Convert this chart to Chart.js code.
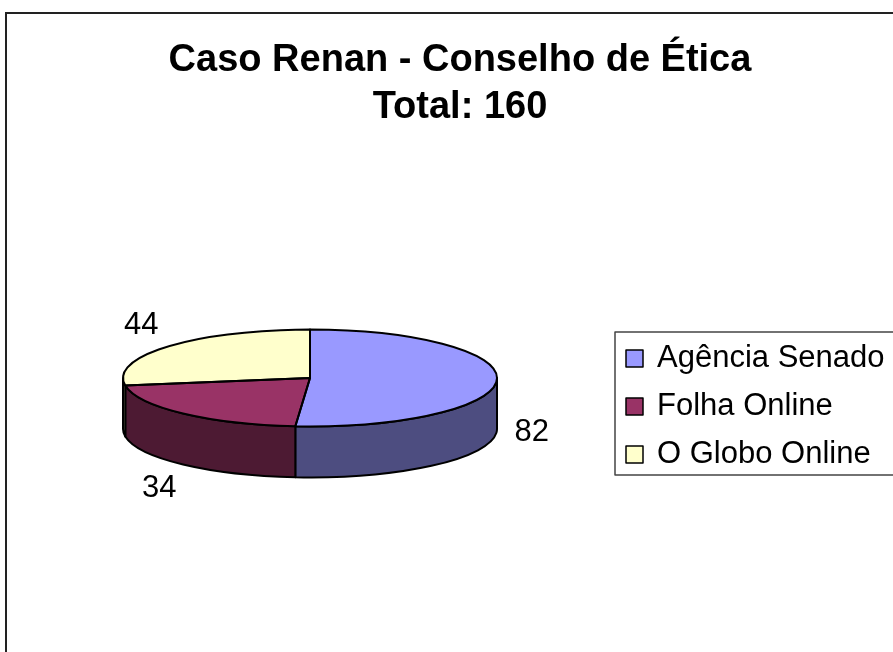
<!DOCTYPE html>
<html>
<head>
<meta charset="utf-8">
<script src="https://cdn.jsdelivr.net/npm/chart.js@4.4.0/dist/chart.umd.min.js"></script>
<style>
  html, body { margin: 0; padding: 0; background: #fff; }
  canvas { display: block; }
</style>
</head>
<body>
<canvas id="pieChart" width="893" height="652"></canvas>
<script>
var categories = ['Agência Senado', 'Folha Online', 'O Globo Online'];
var values = [82, 34, 44];
var titleLines = ['Caso Renan - Conselho de Ética', 'Total: 160'];
var topColors = ['#9999FF', '#993366', '#FFFFCC'];
var sideColors = ['#4D4D80', '#4D1A33', '#808066'];

var FONT = '"Liberation Sans", Arial, sans-serif';
var TILT = 0.259;   // how flat the pie top is
var DEPTH = 51;     // thickness of the pie

function squash(ctx, arc) {
    ctx.translate(arc.x, arc.y);
    ctx.scale(1, TILT);
    ctx.translate(-arc.x, -arc.y);
}

var pie3d = {
    id: 'pie3d',
    beforeDraw: function (chart) {
        var ctx = chart.ctx;
        ctx.save();
        ctx.fillStyle = '#fff';
        ctx.fillRect(0, 0, chart.width, chart.height);
        // outer frame
        ctx.lineWidth = 2;
        ctx.strokeStyle = '#222';
        ctx.strokeRect(6, 13, 1000, 1000);
        // title
        ctx.fillStyle = '#000';
        ctx.textAlign = 'center';
        ctx.textBaseline = 'alphabetic';
        ctx.font = 'bold 38px ' + FONT;
        ctx.fillText(titleLines[0], 460, 71);
        ctx.fillText(titleLines[1], 460, 118);
        ctx.restore();
    },
    beforeDatasetsDraw: function (chart) {
        var ctx = chart.ctx;
        var arcs = chart.getDatasetMeta(0).data;
        // side walls, only the front half shows
        arcs.forEach(function (arc, i) {
            var a1 = Math.max(arc.startAngle, 0);
            var a2 = Math.min(arc.endAngle, Math.PI);
            if (a2 <= a1) return;
            var r = arc.outerRadius;
            ctx.beginPath();
            ctx.ellipse(arc.x, arc.y, r, r * TILT, 0, a1, a2);
            ctx.lineTo(arc.x + r * Math.cos(a2), arc.y + r * TILT * Math.sin(a2) + DEPTH);
            ctx.ellipse(arc.x, arc.y + DEPTH, r, r * TILT, 0, a2, a1, true);
            ctx.closePath();
            ctx.fillStyle = sideColors[i];
            ctx.fill();
            ctx.lineWidth = 2;
            ctx.strokeStyle = '#000';
            ctx.lineJoin = 'round';
            ctx.stroke();
        });
        ctx.save();
        squash(ctx, arcs[0]);
    },
    afterDatasetsDraw: function (chart) {
        var ctx = chart.ctx;
        var arcs = chart.getDatasetMeta(0).data;
        ctx.restore();
        // slice outlines (path built squashed, stroked unscaled)
        arcs.forEach(function (arc) {
            ctx.save();
            squash(ctx, arc);
            ctx.beginPath();
            ctx.moveTo(arc.x, arc.y);
            ctx.arc(arc.x, arc.y, arc.outerRadius, arc.startAngle, arc.endAngle);
            ctx.closePath();
            ctx.restore();
            ctx.lineWidth = 2;
            ctx.strokeStyle = '#000';
            ctx.lineJoin = 'round';
            ctx.stroke();
        });
        // value labels outside the pie
        ctx.save();
        ctx.font = '31px ' + FONT;
        ctx.fillStyle = '#000';
        ctx.textAlign = 'center';
        ctx.textBaseline = 'middle';
        arcs.forEach(function (arc, i) {
            var mid = (arc.startAngle + arc.endAngle) / 2;
            var r = arc.outerRadius;
            var s = Math.sin(mid);
            var x = arc.x + (r + 35) * Math.cos(mid);
            var y = arc.y + (r * TILT + 33) * s + (s > 0 ? DEPTH : 0);
            ctx.fillText(String(chart.data.datasets[0].data[i]), x, y);
        });
        ctx.restore();
    },
    afterDraw: function (chart) {
        var ctx = chart.ctx;
        var ds = chart.data.datasets[0];
        ctx.save();
        // legend box
        ctx.lineWidth = 1.5;
        ctx.strokeStyle = '#444';
        ctx.strokeRect(615, 332, 400, 143);
        ctx.font = '31px ' + FONT;
        ctx.textAlign = 'left';
        ctx.textBaseline = 'alphabetic';
        chart.data.labels.forEach(function (label, i) {
            var base = 367 + i * 48;
            ctx.fillStyle = ds.backgroundColor[i];
            ctx.fillRect(626, base - 17, 17, 17);
            ctx.strokeStyle = '#000';
            ctx.strokeRect(626, base - 17, 17, 17);
            ctx.fillStyle = '#000';
            ctx.fillText(label, 657, base);
        });
        ctx.restore();
    }
};

var ctx = document.getElementById('pieChart').getContext('2d');
var pieChart = new Chart(ctx, {
    type: 'pie',
    data: {
        labels: categories,
        datasets: [{
            data: values,
            backgroundColor: topColors,
            borderWidth: 0,
            hoverOffset: 0,
            clip: false
        }]
    },
    options: {
        responsive: false,
        animation: false,
        events: [],
        layout: {
            padding: { left: 123, right: 396, top: 191, bottom: 87 }
        },
        plugins: {
            legend: { display: false },
            title: { display: false },
            tooltip: { enabled: false }
        }
    },
    plugins: [pie3d]
});
</script>
</body>
</html>
